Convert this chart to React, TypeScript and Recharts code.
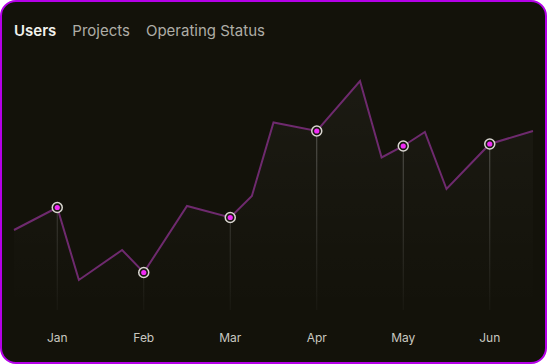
import React from "react";
import { ComposedChart, Area, XAxis, YAxis, ReferenceLine } from "recharts";

const months = ["Jan", "Feb", "Mar", "Apr", "May", "Jun"];
const positions = [-0.5, 0, 0.25, 0.75, 1, 1.5, 2, 2.25, 2.5, 3, 3.5, 3.75, 4, 4.25, 4.5, 5, 5.5];
const users = [32, 41, 12, 24, 15, 41.6, 37, 45.6, 75, 71.6, 91.6, 61, 65.6, 71.2, 48.4, 66.4, 71.6];
const tabs = ["Users", "Projects", "Operating Status"];

const data = positions.map((x, i) => ({ x, users: users[i] }));
const monthPoints = data.filter((d) => Number.isInteger(d.x));

const W = 547;
const H = 364;

const MonthDot = (props: any) => {
  const { cx, cy, payload } = props;
  if (!Number.isInteger(payload.x)) return <g key={props.key} />;
  return (
    <g key={props.key}>
      <circle cx={cx} cy={cy} r={5} fill="#1a1712" stroke="#d9d6d0" strokeWidth={1.5} />
      <circle cx={cx} cy={cy} r={2.6} fill="#f02cf5" />
    </g>
  );
};

const App: React.FC = () => {
  return (
    <div
      style={{
        position: "absolute",
        left: 0,
        top: 0,
        width: W,
        height: H,
        background: "#fff",
      }}
    >
      <div
        style={{
          position: "absolute",
          inset: 0,
          boxSizing: "border-box",
          borderRadius: 16,
          border: "2px solid #b400e8",
          background: "#13120a",
          overflow: "hidden",
          fontFamily: "Inter, sans-serif",
        }}
      >
        <div style={{ position: "absolute", left: 12, top: 19, display: "flex", gap: 16 }}>
          {tabs.map((t, i) => (
            <span
              key={t}
              style={{
                fontSize: 15,
                fontWeight: i === 0 ? 600 : 400,
                color: i === 0 ? "#f2f2ee" : "#aeada6",
              }}
            >
              {t}
            </span>
          ))}
        </div>
        <div style={{ position: "absolute", left: -2, top: -2 }}>
          <ComposedChart width={W} height={H} data={data} margin={{ top: 60, right: 14, bottom: 0, left: 14 }}>
            <defs>
              <linearGradient id="areaFill" x1="0" y1="0" x2="0" y2="1">
                <stop offset="0%" stopColor="#ffffff" stopOpacity={0.06} />
                <stop offset="100%" stopColor="#ffffff" stopOpacity={0} />
              </linearGradient>
              <linearGradient id="dropLine" gradientUnits="userSpaceOnUse" x1="0" y1="120" x2="0" y2="310">
                <stop offset="0%" stopColor="#ffffff" stopOpacity={0.3} />
                <stop offset="100%" stopColor="#ffffff" stopOpacity={0.03} />
              </linearGradient>
            </defs>
            <XAxis
              dataKey="x"
              type="number"
              domain={[-0.5, 5.5]}
              ticks={[0, 1, 2, 3, 4, 5]}
              tickFormatter={(v: number) => months[v]}
              axisLine={false}
              tickLine={false}
              height={54}
              tickMargin={17}
              tick={{ fontSize: 12, fill: "#c9c8c0", fontFamily: "Inter, sans-serif" }}
            />
            <YAxis hide domain={[0, 100]} />
            {monthPoints.map((p) => (
              <ReferenceLine
                key={p.x}
                segment={[
                  { x: p.x, y: p.users },
                  { x: p.x, y: 0 },
                ]}
                stroke="url(#dropLine)"
                strokeWidth={1}
              />
            ))}
            <Area
              type="linear"
              dataKey="users"
              stroke="#6e2a6e"
              strokeWidth={2}
              fill="url(#areaFill)"
              dot={MonthDot}
              activeDot={false}
              isAnimationActive={false}
            />
          </ComposedChart>
        </div>
      </div>
    </div>
  );
};

export default App;
